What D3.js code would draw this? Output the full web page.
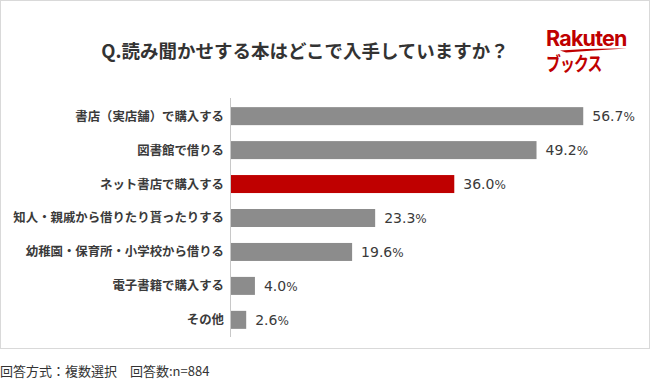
<!DOCTYPE html>
<html>
<head>
<meta charset="utf-8">
<script src="https://cdn.jsdelivr.net/npm/d3@7"></script>
<style>
  html, body { margin: 0; padding: 0; background: #fff; }
  svg { display: block; }
</style>
</head>
<body>
<div id="chart"></div>
<script>
// ── Data ──
const categories = [
  '書店（実店舗）で購入する',
  '図書館で借りる',
  'ネット書店で購入する',
  '知人・親戚から借りたり貰ったりする',
  '幼稚園・保育所・小学校から借りる',
  '電子書籍で購入する',
  'その他'
];
const values = [56.7, 49.2, 36.0, 23.3, 19.6, 4.0, 2.6];
const highlight = 'ネット書店で購入する';

const titleText = 'Q.読み聞かせする本はどこで入手していますか？';
const footText = '回答方式：複数選択　回答数:n=884';

const FONT = "'Noto Sans CJK JP', 'Noto Sans', sans-serif";
const W = 650, H = 390;

const svg = d3.select('#chart').append('svg')
  .attr('width', W).attr('height', H);

// frame
svg.append('rect')
  .attr('x', 0.5).attr('y', 0.5)
  .attr('width', W - 1).attr('height', 348)
  .attr('fill', '#fff').attr('stroke', '#d9d9d9');

// title
svg.append('text')
  .attr('x', 305).attr('y', 58)
  .attr('text-anchor', 'middle')
  .attr('font-family', FONT).attr('font-size', '18.5px').attr('font-weight', 'bold')
  .attr('fill', '#333')
  .text(titleText);

// logo
const logo = svg.append('g').attr('fill', '#bf0000');
logo.append('text')
  .attr('x', 546).attr('y', 46)
  .attr('font-family', "'Inter', 'Noto Sans', sans-serif")
  .attr('font-size', '21.5px').attr('font-weight', 'bold')
  .attr('letter-spacing', '-0.8')
  .text('Rakuten');
logo.append('path')
  .attr('d', 'M560,50.5 Q590,48 627,48.5 Q592,50.5 566,52.5 Z');
logo.append('text')
  .attr('transform', 'translate(546,71) scale(0.78,1)')
  .attr('font-family', FONT)
  .attr('font-size', '19px').attr('font-weight', 'bold')
  .attr('letter-spacing', '-1')
  .text('ブックス');

// scales
const x = d3.scaleLinear().domain([0, 60]).range([230, 230 + 60 * 6.23]);
const y = d3.scaleBand().domain(categories).range([99, 337]).paddingInner(0.47).paddingOuter(0.24);

// axis line
svg.append('line')
  .attr('x1', 230.5).attr('x2', 230.5)
  .attr('y1', 98).attr('y2', 337)
  .attr('stroke', '#c8c8c8');

// bars
svg.append('g').selectAll('rect')
  .data(categories)
  .join('rect')
  .attr('x', x(0) + 1)
  .attr('y', d => y(d))
  .attr('width', (d, i) => x(values[i]) - x(0) - 1)
  .attr('height', y.bandwidth())
  .attr('fill', d => d === highlight ? '#bf0000' : '#8c8c8c');

// category labels
svg.append('g').selectAll('text')
  .data(categories)
  .join('text')
  .attr('x', 224)
  .attr('y', d => y(d) + y.bandwidth() / 2)
  .attr('dy', '0.36em')
  .attr('text-anchor', 'end')
  .attr('font-family', FONT).attr('font-size', '12.4px').attr('font-weight', 'bold')
  .attr('fill', '#3a3a3a')
  .text(d => d);

// value labels
const vl = svg.append('g').selectAll('text')
  .data(categories)
  .join('text')
  .attr('x', (d, i) => x(values[i]) + 9)
  .attr('y', d => y(d) + y.bandwidth() / 2)
  .attr('dy', '0.37em')
  .attr('font-family', "'DejaVu Sans', sans-serif")
  .attr('font-size', '14px')
  .attr('fill', '#3a3a3a');
vl.append('tspan').text((d, i) => values[i].toFixed(1));
vl.append('tspan').attr('font-size', '12px').text('%');

// footer
svg.append('text')
  .attr('x', 0).attr('y', 376)
  .attr('font-family', FONT).attr('font-size', '13px')
  .attr('fill', '#333')
  .text(footText);
</script>
</body>
</html>
